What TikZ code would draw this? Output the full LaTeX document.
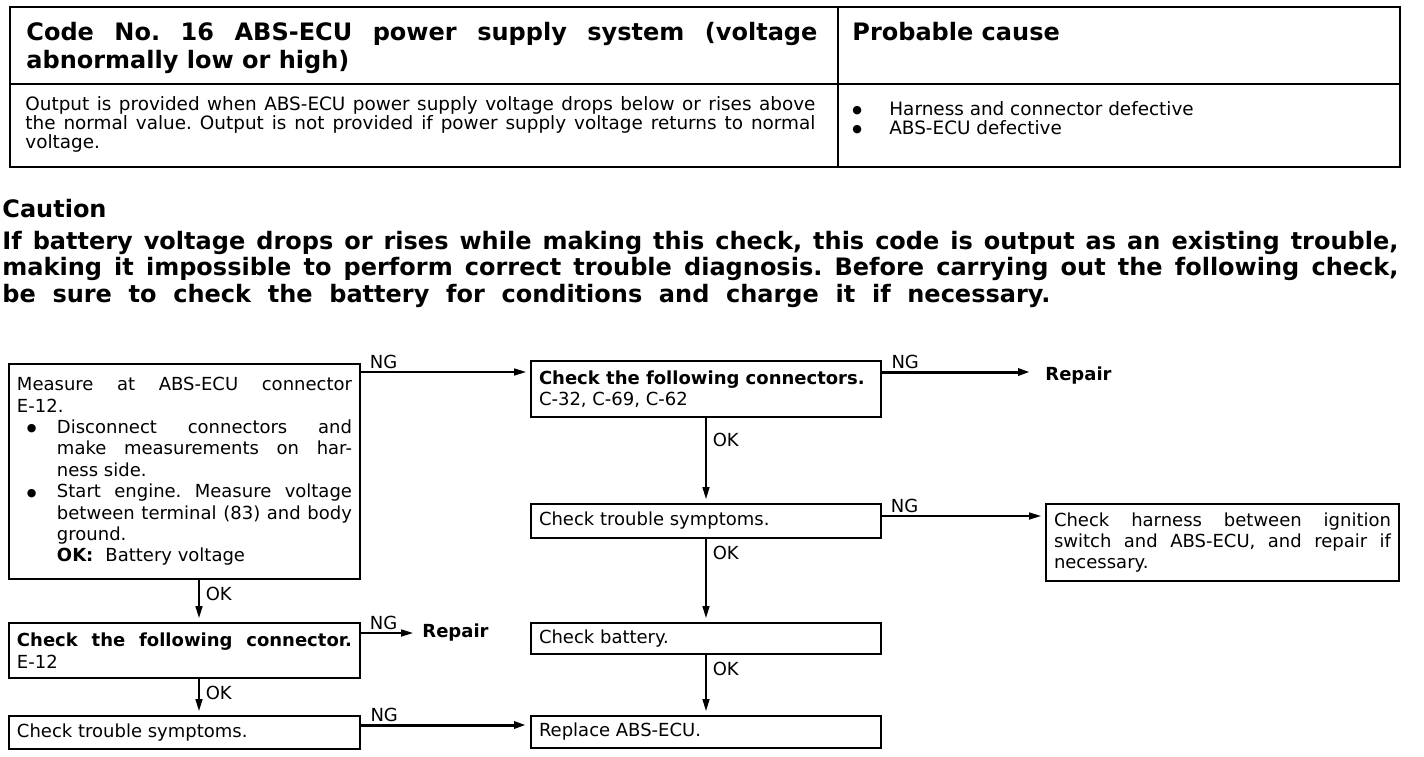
\documentclass[tikz,border=0pt]{standalone}
\usepackage{fontspec}
\setmainfont{DejaVu Sans}
\usetikzlibrary{arrows.meta, positioning}
\setlength{\parindent}{0pt}
\frenchspacing
\tolerance=10000
\hbadness=10000
\hyphenpenalty=10000
% bullet paragraph: #1 hanging indent, #2 space before the bullet
\newcommand{\bulletpar}[2]{\par\noindent\hangindent=#1\hangafter=1\hbox to #1{\hspace{#2}\raisebox{0.8pt}{\fontsize{5.5}{6}\selectfont ●}\hfil}}

\begin{document}
\begin{tikzpicture}[x=0.5pt, y=-0.5pt,
  stepbox/.style={draw, line width=1pt, anchor=north west, inner xsep=4pt, inner ysep=2pt,
                  align=justify, text width=#1, font=\fontsize{9}{10.7}\selectfont},
  lbl/.style={inner sep=1pt, font=\fontsize{9}{10.7}\selectfont},
  nglbl/.style={lbl, anchor=south west, xshift=3pt},
  oklbl/.style={lbl, anchor=north west, xshift=2pt, yshift=-2pt},
  endlbl/.style={lbl, anchor=west, font=\bfseries\fontsize{9}{10.7}\selectfont},
  flow/.style={line width=0.8pt, -{Triangle[length=6pt, width=3.5pt]}, shorten >=2pt},
  heavy/.style={flow, line width=1.5pt},
  headtext/.style={anchor=north west, inner sep=0pt, font=\bfseries\fontsize{12}{14}\selectfont},
  bigtext/.style={headtext, align=justify},
  smalltext/.style={anchor=north west, inner sep=0pt, align=justify, font=\fontsize{9.2}{9.5}\selectfont}
]
\useasboundingbox (0,0) rectangle (1424,756);

% Table: code and probable cause
\draw[line width=1.4pt] (10,7) rectangle (1400,167);
\draw[line width=0.8pt] (10,84) -- (1400,84) (838,7) -- (838,167);
\node[bigtext, text width=395.5pt] (code) at (26,22)
  {Code No. 16 ABS-ECU power supply system (voltage\linebreak abnormally low or high)};
\node[headtext] (cause) at (852,22) {Probable cause};
\node[smalltext, text width=395pt] (output) at (25,96)
  {Output is provided when ABS-ECU power supply voltage drops below or rises above\linebreak
   the normal value. Output is not provided if power supply voltage returns to normal\linebreak voltage.};
\node[smalltext, text width=270pt] (defects) at (846,96)
  {\bulletpar{21.5pt}{3pt}Harness and connector defective
   \bulletpar{21.5pt}{3pt}ABS-ECU defective\par};

% Caution
\node[headtext] (cauthd) at (2,199) {Caution};
\node[bigtext, text width=698pt, font=\bfseries\fontsize{12}{13.25}\selectfont] (caution) at (2,230.5)
  {If battery voltage drops or rises while making this check, this code is output as an existing trouble,\linebreak
   making it impossible to perform correct trouble diagnosis. Before carrying out the following check,\linebreak
   \makebox[524pt][s]{be sure to check the battery for conditions and charge it if necessary.}};

% Left column
\node[stepbox=167.5pt, minimum height=107.5pt] (measure) at (8,363)
  {\noindent Measure at ABS-ECU connector\linebreak E-12.
   \bulletpar{20pt}{5pt}Disconnect connectors and\linebreak make measurements on har-\linebreak ness side.
   \bulletpar{20pt}{5pt}Start engine. Measure voltage\linebreak between terminal (83) and body\linebreak
   ground.\newline\textbf{OK:}\hspace{6pt}Battery voltage\par};
\node[stepbox=167.5pt, minimum height=27.5pt] (chkconnE) at (8,622)
  {\textbf{Check the following connector.}\linebreak E-12};
\node[stepbox=167.5pt, minimum height=16.5pt] (symptL) at (8,715) {Check trouble symptoms.};
\node[endlbl] (repairE) at (420,633) {Repair};

% Right column
\node[stepbox=167pt, minimum height=28pt] (chkconnC) at (530,360)
  {\textbf{Check the following connectors.}\newline C-32, C-69, C-62};
\node[stepbox=167pt, minimum height=17pt] (symptR) at (530,503) {Check trouble symptoms.};
\node[stepbox=167pt, minimum height=15.5pt] (battery) at (530,622) {Check battery.};
\node[stepbox=167pt, minimum height=16pt] (replace) at (530,715) {Replace ABS-ECU.};
\node[stepbox=168.5pt, minimum height=38.5pt] (harness) at (1045,503)
  {Check harness between ignition\linebreak switch and ABS-ECU, and repair if\linebreak necessary.};
\node[endlbl] (repairC) at (1043,376) {Repair};

% NG branches
\draw[flow] ([yshift=-4.5pt]measure.north east) node[nglbl] {NG}
  -- ([yshift=-4.5pt]measure.north east -| chkconnC.west);
\draw[flow, shorten >=3.5pt] ([yshift=-5.5pt]chkconnE.north east) node[nglbl] {NG}
  -- ([yshift=-5.5pt]chkconnE.north east -| repairE.west);
\draw[heavy] ([yshift=-5pt]symptL.north east) node[nglbl] {NG}
  -- ([yshift=-5pt]symptL.north east -| replace.west);
\draw[heavy, shorten >=6.5pt] ([yshift=-6pt]chkconnC.north east) node[nglbl] {NG}
  -- ([yshift=-6pt]chkconnC.north east -| repairC.west);
\draw[flow] ([yshift=-6.5pt]symptR.north east) node[nglbl] {NG}
  -- ([yshift=-6.5pt]symptR.north east -| harness.west);

% OK branches
\draw[flow] ([xshift=7.25pt]measure.south) node[oklbl] {OK} -- ([xshift=7.25pt]chkconnE.north);
\draw[flow] ([xshift=7.25pt]chkconnE.south) node[oklbl] {OK} -- ([xshift=7.25pt]symptL.north);
\draw[flow] (chkconnC.south) node[oklbl, yshift=-4pt] {OK} -- (symptR.north);
\draw[flow] (symptR.south) node[oklbl] {OK} -- (battery.north);
\draw[flow] (battery.south) node[oklbl] {OK} -- (replace.north);
\end{tikzpicture}
\end{document}
